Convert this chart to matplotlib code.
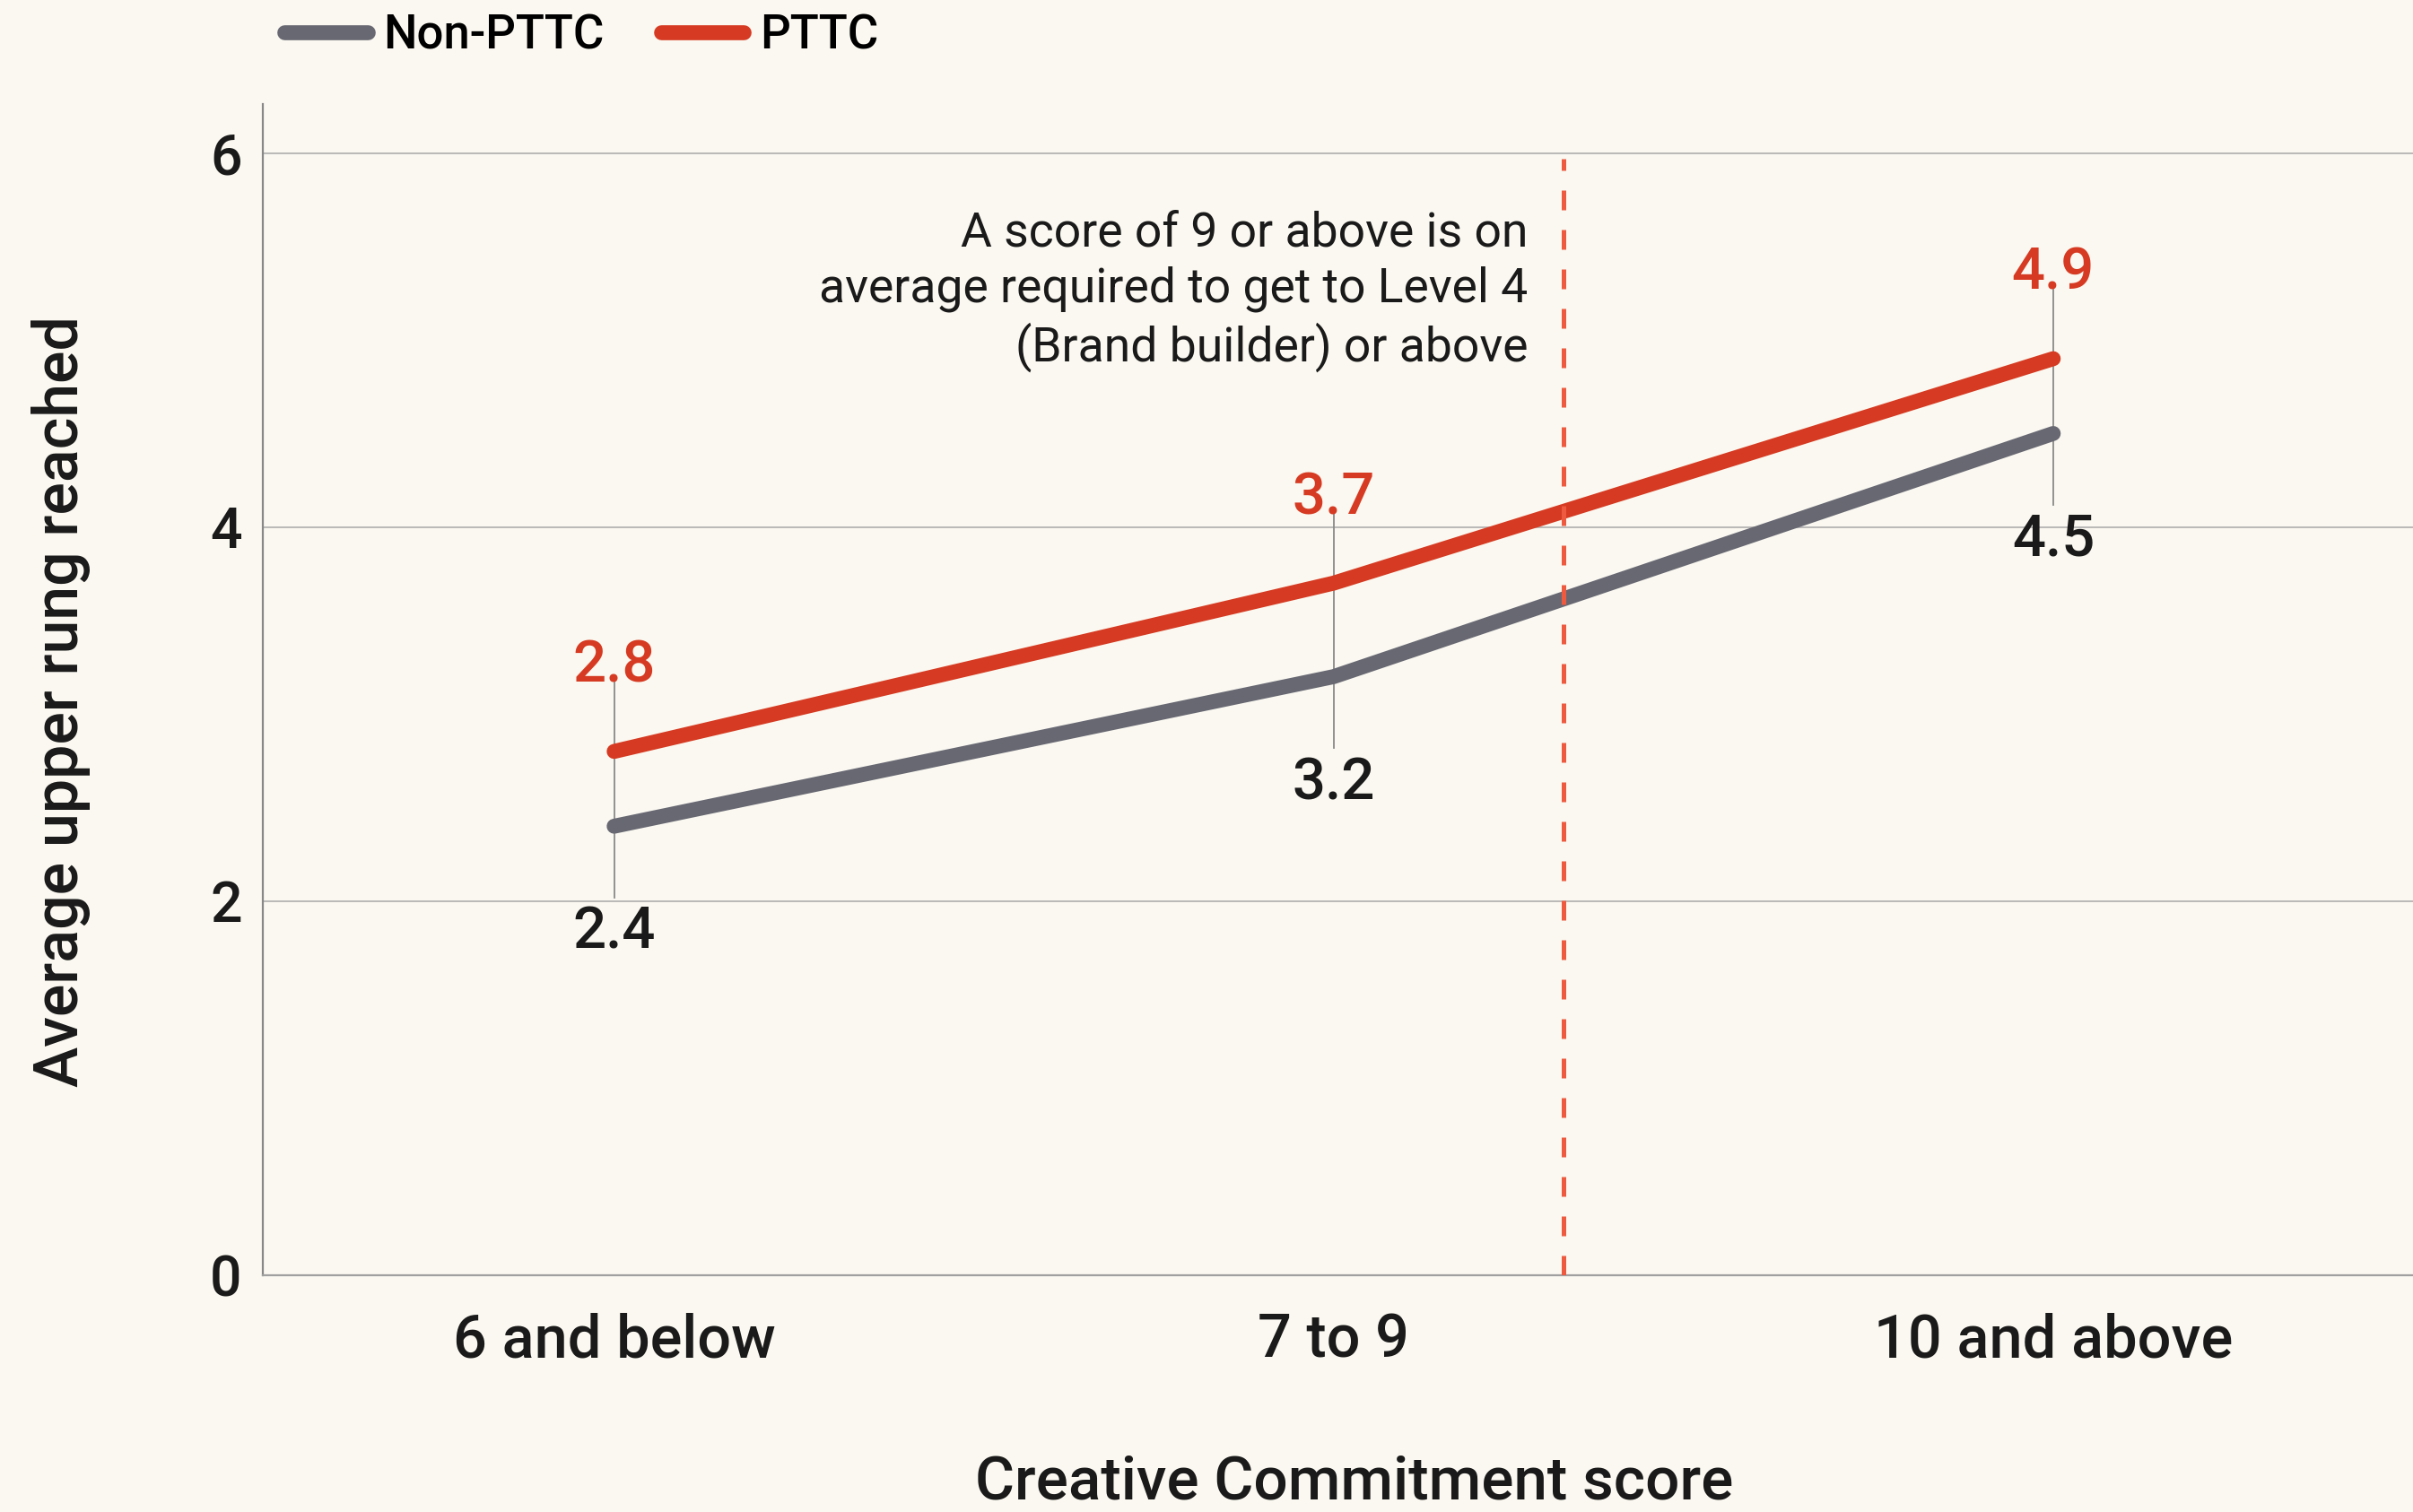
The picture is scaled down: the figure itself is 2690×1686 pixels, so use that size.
import matplotlib.pyplot as plt
from matplotlib.lines import Line2D

# data
categories = ["6 and below", "7 to 9", "10 and above"]
non_pttc = [2.4, 3.2, 4.5]
pttc = [2.8, 3.7, 4.9]
yticks = [0, 2, 4, 6]
threshold_x = 1.32
note = "A score of 9 or above is on\naverage required to get to Level 4\n(Brand builder) or above"

BG = "#faf8f0"
RED = "#d63a22"
GREY = "#686873"
DASH = "#ee5a40"
INK = "#1a1a1a"

plt.rcParams['font.family'] = ['Roboto', 'DejaVu Sans']
plt.rcParams['font.weight'] = 'medium'
plt.rcParams['axes.labelweight'] = 'medium'

fig = plt.figure(figsize=(26.9, 16.86), dpi=100, facecolor=BG)
ax = fig.add_axes([0.109, 0.1567, 0.891, 0.7743], facecolor=BG)

x = list(range(len(categories)))

# leader lines behind the series
for i in x:
    ax.plot([i, i], [non_pttc[i] - 0.38, pttc[i] + 0.37], color="#8a8a8a", lw=1.3, zorder=2)

ax.plot(x, non_pttc, color=GREY, lw=12, solid_capstyle='round', solid_joinstyle='round', zorder=3)
ax.plot(x, pttc, color=RED, lw=12, solid_capstyle='round', solid_joinstyle='round', zorder=4)

for i in x:
    ax.annotate(f"{pttc[i]:.1f}", (i, pttc[i] + 0.37), xytext=(0, 0), textcoords='offset points',
                ha='center', va='baseline', fontsize=47, color=RED)
    ax.annotate(f"{non_pttc[i]:.1f}", (i, non_pttc[i] - 0.38), xytext=(0, -6), textcoords='offset points',
                ha='center', va='top', fontsize=47, color=INK)

ax.plot([threshold_x, threshold_x], [0, 5.97], color=DASH, lw=3.6, dashes=(4.4, 4.4), zorder=5)
ax.text(1.27, 5.26, note, ha='right', va='center', fontsize=38.5, color=INK,
        linespacing=1.27, fontweight='normal')

ax.set_xlim(-0.488, 2.5)
ax.set_ylim(0, 6.26)
ax.set_xticks(x)
ax.set_xticklabels(categories)
ax.set_yticks(yticks)
ax.tick_params(axis='x', length=0, pad=30, labelsize=48, labelcolor=INK)
ax.tick_params(axis='y', length=0, pad=17, labelsize=45, labelcolor=INK)
ax.grid(axis='y', color="#a8a8a8", lw=1.1)
ax.set_axisbelow(True)

for s in ['top', 'right']:
    ax.spines[s].set_visible(False)
ax.spines['left'].set_color("#888888")
ax.spines['left'].set_linewidth(1.6)
ax.spines['bottom'].set_color("#a0a0a0")
ax.spines['bottom'].set_linewidth(1.6)

ax.set_xlabel("Creative Commitment score", fontsize=48.5, color=INK)
ax.xaxis.set_label_coords(0.5075, -0.153)
ax.set_ylabel("Average upper rung reached", fontsize=49, color=INK)
ax.yaxis.set_label_coords(-0.080, 0.49)

handles = [Line2D([], [], color=GREY, lw=12, solid_capstyle='round'),
           Line2D([], [], color=RED, lw=12, solid_capstyle='round')]
fig.legend(handles, ["Non-PTTC", "PTTC"], loc='center left', bbox_to_anchor=(0.118, 0.976),
           ncol=2, frameon=False, fontsize=38, handlelength=1.75, handletextpad=0.33,
           columnspacing=1.2, borderpad=0, borderaxespad=0)

fig.savefig("out.png", dpi=100, facecolor=BG)
